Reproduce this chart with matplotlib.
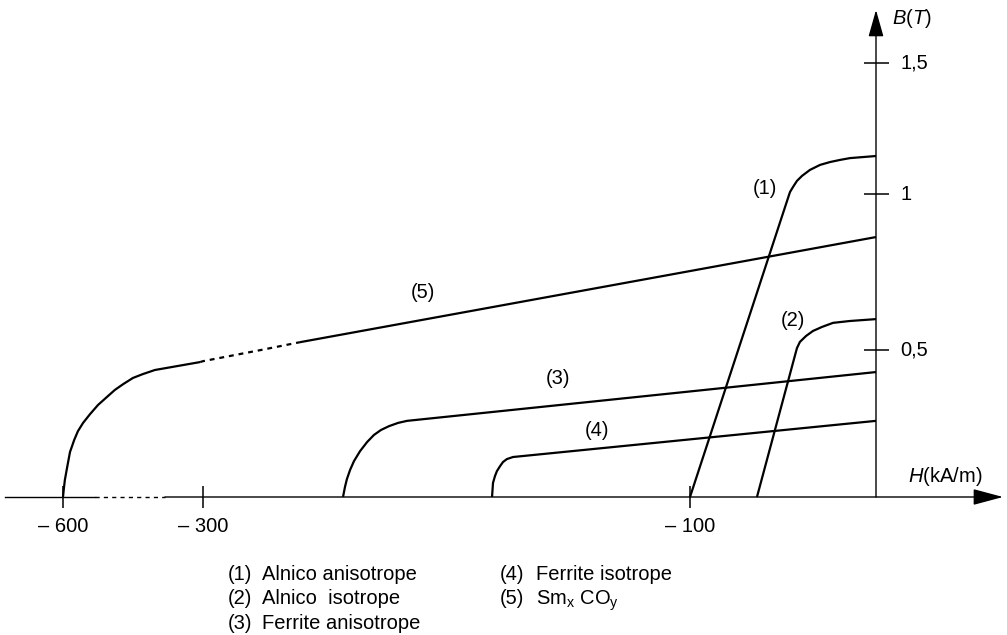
import numpy as np
import matplotlib
matplotlib.use("Agg")
import matplotlib.pyplot as plt

plt.rcParams['font.family'] = 'Liberation Sans'
plt.rcParams['mathtext.fontset'] = 'custom'
plt.rcParams['mathtext.rm'] = 'Liberation Sans'
plt.rcParams['mathtext.it'] = 'Liberation Sans:italic'

# Graduations des axes
h_ticks = [-600, -300, -100]
h_tick_labels = ['– 600', '– 300', '– 100']
b_ticks = [0.5, 1, 1.5]
b_tick_labels = ['0,5', '1', '1,5']

# (1) Alnico anisotrope
h1 = [-100, -74.1, -46.6, -46.2, -44.6, -42.5, -39.8, -35.5, -30.1, -24.7, -19.4, -14.0, -7.0, 0]
b1 = [0, 0.5, 1.0, 1.008, 1.027, 1.050, 1.069, 1.092, 1.111, 1.122, 1.130, 1.137, 1.141, 1.145]

# (2) Alnico isotrope
h2 = [-64.0, -43.5, -42.5, -40.9, -37.6, -33.9, -29.0, -23.1, -14.0, -7.0, 0]
b2 = [0, 0.483, 0.506, 0.526, 0.545, 0.561, 0.574, 0.587, 0.593, 0.596, 0.599]

# (3) Ferrite anisotrope
h3 = [-242.5, -241.7, -240.9, -239.6, -238.0, -235.5, -232.6, -229.8, -226.9, -223.6, -219.9, -216.2, -100, 0]
b3 = [0, 0.034, 0.061, 0.092, 0.122, 0.156, 0.187, 0.211, 0.228, 0.241, 0.252, 0.259, 0.359, 0.425]

# (4) Ferrite isotrope
h4 = [-181.3, -181.1, -180.9, -180.1, -179.3, -178.0, -176.8, -175.2, -172.7, -100, 0]
b4 = [0, 0.024, 0.048, 0.071, 0.088, 0.105, 0.119, 0.129, 0.136, 0.196, 0.259]

# (5) SmCo : coude, partie en pointilles, droite
h5_coude = [-600, -598, -596, -591, -585, -576, -568, -557, -542, -525, -506, -489, -471, -450, -429, -403, -306]
b5_coude = [0, 0.031, 0.058, 0.102, 0.153, 0.194, 0.224, 0.252, 0.282, 0.313, 0.340, 0.364, 0.384, 0.405, 0.418, 0.432, 0.459]
h5_tirets = [-306, -300, -276.2, -260.2]
b5_tirets = [0.459, 0.462, 0.5, 0.525]
h5_droite = [-260.2, -100, 0]
b5_droite = [0.525, 0.753, 0.862]

courbes = [(h1, b1), (h2, b2), (h3, b3), (h4, b4), (h5_coude, b5_coude), (h5_droite, b5_droite)]

legende_g = [('(1)', 'Alnico anisotrope'), ('(2)', 'Alnico  isotrope'), ('(3)', 'Ferrite anisotrope')]
legende_d = [('(4)', 'Ferrite isotrope'), ('(5)', 'Sm$_\\mathrm{x}$ CO$_\\mathrm{y}$')]

# Echelles (axe H coupe, dessin schematique)
H_ANCRE = [-2000, -600, -300, -100, 0, 1000]
X_PIX = [-590.3, 63, 203, 690, 876, 2736]
B_ANCRE = [-1, 0, 0.5, 1, 1.5, 3]
Y_PIX = [-791, -497, -350, -194, -63, 330]


def fx(h):
    return np.interp(h, H_ANCRE, X_PIX)


def fx_inv(x):
    return np.interp(x, X_PIX, H_ANCRE)


def fy(b):
    return np.interp(b, B_ANCRE, Y_PIX)


def fy_inv(y):
    return np.interp(y, Y_PIX, B_ANCRE)


def pos(px, py):
    return fx_inv(px), fy_inv(-py)


fig = plt.figure(figsize=(10.07, 6.35), dpi=100)
ax = fig.add_axes([0, 0, 1, 1])
ax.set_xscale('function', functions=(fx, fx_inv))
ax.set_yscale('function', functions=(fy, fy_inv))
ax.set_xlim(fx_inv(0), fx_inv(1007))
ax.set_ylim(fy_inv(-635), fy_inv(0))
ax.axis('off')

fs = 14.5
lw_axe = 1.0

# Axe H
x_g, x_c1, x_c2, x_fin = pos(5, 0)[0], pos(95, 0)[0], pos(165, 0)[0], pos(1003, 0)[0]
ax.plot([x_g, x_c1], [0, 0], color='black', lw=lw_axe)
ax.plot([x_c1, x_c2], [0, 0], color='black', lw=lw_axe, ls=(0, (3, 3)))
ax.annotate('', xy=(x_fin, 0), xytext=(x_c2, 0),
            arrowprops=dict(arrowstyle='-|>,head_length=1.87,head_width=0.5',
                            mutation_scale=10, lw=lw_axe, color='black',
                            shrinkA=0, shrinkB=0))

# Axe B
b_fin = pos(876, 10)[1]
ax.annotate('', xy=(0, b_fin), xytext=(0, 0),
            arrowprops=dict(arrowstyle='-|>,head_length=1.66,head_width=0.47',
                            mutation_scale=10, lw=lw_axe, color='black',
                            shrinkA=0, shrinkB=0))

# Graduations
ax.plot(h_ticks, [0] * len(h_ticks), ls='none', marker='|', ms=16.5, mew=1.1, color='black')
ax.plot([0] * len(b_ticks), b_ticks, ls='none', marker='_', ms=18, mew=1.1, color='black')
for h, lab in zip(h_ticks, h_tick_labels):
    ax.annotate(lab, (h, 0), xytext=(0, -29), textcoords='offset pixels',
                ha='center', va='center', fontsize=fs)
for b, lab in zip(b_ticks, b_tick_labels):
    ax.annotate(lab, (0, b), xytext=(24, 0), textcoords='offset pixels',
                ha='left', va='center', fontsize=fs)

ax.text(*pos(912, 18), '$B$($T$)', ha='center', va='center', fontsize=fs)
ax.text(*pos(945, 477), '$H$(kA/m)', ha='center', va='center', fontsize=fs)

# Courbes de desaimantation
for h, b in courbes:
    ax.plot(h, b, color='black', lw=1.6, solid_capstyle='butt')
ax.plot(h5_tirets, b5_tirets, color='black', lw=1.6, ls=(0, (2.2, 2.2)))

# Reperes des courbes
for lab, (px, py) in zip(['(1)', '(2)', '(3)', '(4)', '(5)'],
                         [(765, 188), (793, 320), (558, 378), (597, 430), (423, 292)]):
    ax.text(*pos(px, py), lab, ha='center', va='center', fontsize=fs)

# Legende
for i, (num, nom) in enumerate(legende_g):
    y = 580 + 24.5 * i
    ax.text(*pos(228, y), num, ha='left', va='baseline', fontsize=fs)
    ax.text(*pos(262, y), nom, ha='left', va='baseline', fontsize=fs)
for i, (num, nom) in enumerate(legende_d):
    y = 580 + 24.5 * i
    ax.text(*pos(500, y), num, ha='left', va='baseline', fontsize=fs)
    ax.text(*pos(536, y), nom, ha='left', va='baseline', fontsize=fs)

plt.savefig('out.png', dpi=100)
